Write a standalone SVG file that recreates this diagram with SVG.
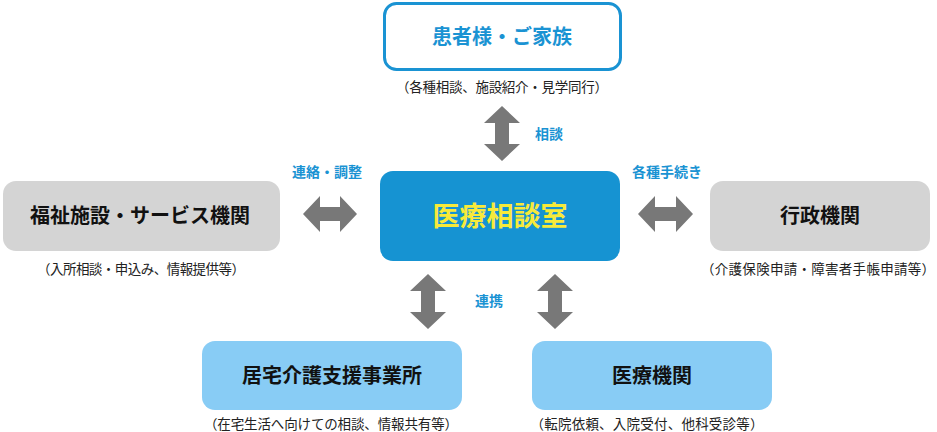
<svg xmlns="http://www.w3.org/2000/svg" width="937" height="432" viewBox="0 0 937 432">
<style>
text{font-family:"Noto Sans CJK JP","Noto Sans",sans-serif;text-anchor:middle}
.t{font-weight:bold;font-size:20px;fill:#111}
.s{font-size:13.5px;fill:#222}
.l{font-weight:bold;font-size:14px;fill:#1a93d3}
.a{fill:#787878}
</style>
<rect width="937" height="432" fill="#fff"/>
<g id="connectors">
<path class="a" d="M502,106 L520,123 L509,123 L509,144 L520,144 L502,161 L484,144 L495,144 L495,123 L484,123 Z"/>
<path class="a" d="M428,274 L446,291 L435,291 L435,312 L446,312 L428,329 L410,312 L421,312 L421,291 L410,291 Z"/>
<path class="a" d="M555,274 L573,291 L562,291 L562,312 L573,312 L555,329 L537,312 L548,312 L548,291 L537,291 Z"/>
<path class="a" d="M303,214 L320,196 L320,207 L340,207 L340,196 L357,214 L340,232 L340,221 L320,221 L320,232 Z"/>
<path class="a" d="M638,214 L655,196 L655,207 L676,207 L676,196 L693,214 L676,232 L676,221 L655,221 L655,232 Z"/>
<text class="l" x="549" y="139">相談</text>
<text class="l" x="327" y="177">連絡・調整</text>
<text class="l" x="667" y="177">各種手続き</text>
<text class="l" x="489" y="306">連携</text>
</g>
<g id="patient">
<rect x="384.500" y="3.500" width="236" height="66" rx="12" fill="#fff" stroke="#1a93d3" stroke-width="3"/>
<text class="t" x="502" y="44" style="fill:#1a93d3">患者様・ご家族</text>
<text class="s" x="502" y="92" textLength="212" lengthAdjust="spacing">（各種相談、施設紹介・見学同行）</text>
</g>
<g id="center">
<rect x="380" y="171" width="240" height="90" rx="13" fill="#1693d2"/>
<text x="500" y="226" style="font-weight:bold;font-size:27px;fill:#f7ea3a">医療相談室</text>
</g>
<g id="welfare">
<rect x="3" y="181" width="277" height="70" rx="13" fill="#d4d4d4"/>
<text class="t" x="140" y="223">福祉施設・サービス機関</text>
<text class="s" x="141" y="274" textLength="208" lengthAdjust="spacing">（入所相談・申込み、情報提供等）</text>
</g>
<g id="admin">
<rect x="710" y="181" width="220" height="70" rx="13" fill="#d4d4d4"/>
<text class="t" x="820" y="223">行政機関</text>
<text class="s" x="818" y="274" textLength="234" lengthAdjust="spacing">（介護保険申請・障害者手帳申請等）</text>
</g>
<g id="care">
<rect x="202" y="341" width="260" height="69" rx="13" fill="#88ccf5"/>
<text class="t" x="332" y="383">居宅介護支援事業所</text>
<text class="s" x="331" y="429" textLength="254" lengthAdjust="spacing">（在宅生活へ向けての相談、情報共有等）</text>
</g>
<g id="medical">
<rect x="532" y="341" width="240" height="69" rx="13" fill="#88ccf5"/>
<text class="t" x="652" y="383">医療機関</text>
<text class="s" x="647" y="429" textLength="233" lengthAdjust="spacing">（転院依頼、入院受付、他科受診等）</text>
</g>
</svg>
